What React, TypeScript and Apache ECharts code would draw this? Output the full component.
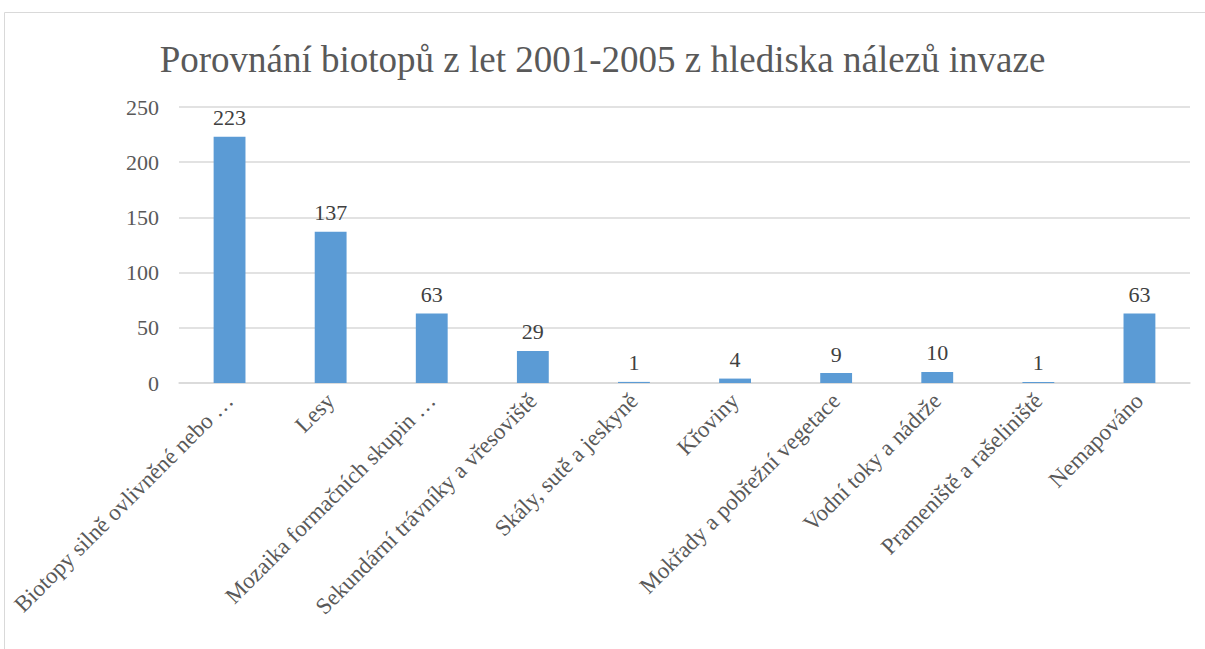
import React, { useEffect, useRef } from "react";
import * as echarts from "echarts";

const categories = [
  "Biotopy silně ovlivněné nebo …",
  "Lesy",
  "Mozaika formačních skupin …",
  "Sekundární trávníky a vřesoviště",
  "Skály, sutě a jeskyně",
  "Křoviny",
  "Mokřady a pobřežní vegetace",
  "Vodní toky a nádrže",
  "Prameniště a rašeliniště",
  "Nemapováno",
];
const values = [223, 137, 63, 29, 1, 4, 9, 10, 1, 63];
const title = "Porovnání biotopů z let 2001-2005 z hlediska nálezů invaze";

export default function App() {
  const ref = useRef<HTMLDivElement>(null);
  useEffect(() => {
    if (!ref.current) return;
    const chart = echarts.init(ref.current, null, { renderer: "svg" });
    const font = "'Liberation Serif', 'Times New Roman', serif";
    chart.setOption({
      animation: false,
      backgroundColor: "#ffffff",
      title: {
        text: title,
        left: "center",
        top: 36,
        textStyle: { fontFamily: font, fontSize: 37, fontWeight: "normal", color: "#595959" },
      },
      graphic: [
        {
          type: "rect",
          shape: { x: 4.5, y: 12.5, width: 1210, height: 650 },
          style: { fill: "none", stroke: "#d9d9d9", lineWidth: 1 },
          silent: true,
        },
      ],
      grid: { left: 179, right: 15, top: 107, bottom: 266, containLabel: false },
      xAxis: {
        type: "category",
        data: categories,
        axisLine: { lineStyle: { color: "#d9d9d9", width: 1.5 } },
        axisTick: { show: false },
        axisLabel: {
          rotate: 45,
          interval: 0,
          fontFamily: font,
          fontSize: 23,
          color: "#595959",
          margin: 14,
        },
      },
      yAxis: {
        type: "value",
        min: 0,
        max: 250,
        interval: 50,
        axisLine: { show: false },
        axisTick: { show: false },
        splitLine: { lineStyle: { color: "#d9d9d9", width: 1.5 } },
        axisLabel: { fontFamily: font, fontSize: 22, color: "#595959", margin: 20 },
      },
      series: [
        {
          type: "bar",
          data: values,
          barWidth: "31.5%",
          itemStyle: { color: "#5b9bd5" },
          label: {
            show: true,
            position: "top",
            distance: 8,
            fontFamily: font,
            fontSize: 22,
            color: "#404040",
          },
        },
      ],
    });
    return () => chart.dispose();
  }, []);
  return (
    <div
      ref={ref}
      style={{ position: "fixed", left: 0, top: 0, width: 1205, height: 649 }}
    />
  );
}
